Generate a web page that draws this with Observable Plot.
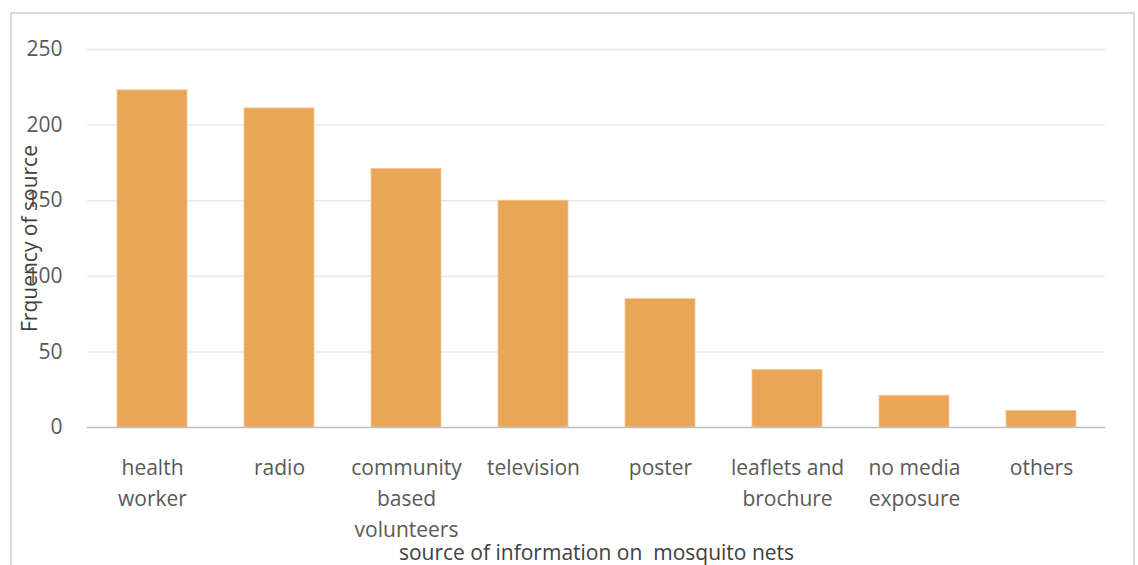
<!DOCTYPE html>
<html>
<head>
<meta charset="utf-8">
<script src="https://cdn.jsdelivr.net/npm/d3@7"></script>
<script src="https://cdn.jsdelivr.net/npm/@observablehq/plot@0.6"></script>
<style>
  html, body { margin: 0; padding: 0; background: #fff; overflow: hidden; }
  #wrap { position: relative; width: 1138px; height: 565px; overflow: hidden; }
  #border { position: absolute; left: 10px; top: 12px; width: 1125px; height: 600px; border: 2px solid #d9d9d9; box-sizing: border-box; pointer-events: none; }
</style>
</head>
<body>
<div id="wrap"><div id="border"></div><div id="chart"></div></div>
<script>
const categories = ["health worker", "radio", "community based volunteers", "television", "poster", "leaflets and brochure", "no media exposure", "others"];
const tickLabels = ["health\nworker", "radio", "community\nbased\nvolunteers", "television", "poster", "leaflets and\nbrochure", "no media\nexposure", "others"];
const frequencies = [223, 211, 171, 150, 85, 38, 21, 11];
const yTicks = [0, 50, 100, 150, 200, 250];
const yTitle = "Frquency of source";
const xTitle = "source of information on  mosquito nets";

const data = categories.map((c, i) => ({source: c, freq: frequencies[i]}));
const labelOf = new Map(categories.map((c, i) => [c, tickLabels[i]]));

const chart = Plot.plot({
  width: 1138,
  height: 565,
  marginLeft: 87,
  marginRight: 33,
  marginTop: 49,
  marginBottom: 138,
  style: { fontFamily: "'Open Sans', sans-serif", fontSize: "21px", background: "transparent", overflow: "visible" },
  x: { domain: categories, paddingInner: 0.45, paddingOuter: 0.225, label: null },
  y: { domain: [0, 250], label: null },
  marks: [
    Plot.gridY(yTicks.filter(d => d > 0), { stroke: "#e8e8e8", strokeOpacity: 1, strokeWidth: 1.5 }),
    Plot.barY(data, { x: "source", y: "freq", fill: "#E9A658", stroke: "#F2C894", strokeWidth: 0.8 }),
    Plot.ruleY([0], { stroke: "#bfbfbf", strokeWidth: 1.5 }),
    Plot.axisY({ ticks: yTicks, tickSize: 0, tickPadding: 25, fill: "#595959", label: null, fontSize: 21 }),
    Plot.axisX({ tickSize: 0, tickPadding: 25, tickFormat: d => labelOf.get(d), lineHeight: 1.48, fill: "#595959", label: null, fontSize: 21 }),
    Plot.text([yTitle], { frameAnchor: "left", dx: -57, rotate: -90, textAnchor: "middle", text: d => d, fill: "#404040", fontSize: 21 }),
    Plot.text([xTitle], { frameAnchor: "bottom", dy: 132, textAnchor: "middle", text: d => d, fill: "#404040", fontSize: 21 })
  ]
});
document.getElementById("chart").appendChild(chart);
</script>
</body>
</html>
